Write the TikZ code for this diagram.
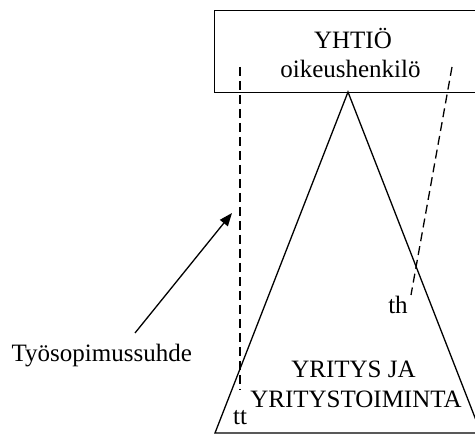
\documentclass[tikz,border=0pt]{standalone}
\usepackage{fontspec}
\setmainfont{Liberation Serif}
\usetikzlibrary{arrows.meta}
\begin{document}
\begin{tikzpicture}[x=1pt,y=-1pt,
  line width=1.3pt,
  lbl/.style={font=\fontsize{25}{29}\selectfont, inner sep=0pt},
  dashline/.style={dashed, dash pattern=on 9pt off 5pt},
  arr/.style={-{Triangle[length=13pt,width=10pt]}}]
\useasboundingbox (0,0) rectangle (475,435);
\clip (0,0) rectangle (475,435);
% company box
\node[draw, minimum width=276pt, minimum height=82pt, inner sep=0pt, anchor=north west] (yhtio) at (214,10) {};
\node[lbl, anchor=base] (yname) at (353,49) {YHTIÖ};
\node[lbl, anchor=base] (ytype) at (350.5,78) {oikeushenkilö};
% enterprise triangle
\coordinate (apex) at (348,92);
\coordinate (bl) at (215,433);
\coordinate (br) at (481,433);
\draw (apex) -- (bl) -- (br) -- cycle;
\node[lbl, anchor=base] (yr1) at (353.5,378) {YRITYS JA};
\node[lbl, anchor=base] (yr2) at (356,408) {YRITYSTOIMINTA};
% dashed relation lines
\coordinate (ltop) at (240,67);
\coordinate (lbot) at (240,390);
\draw[dashline] (ltop) -- (lbot);
\coordinate (rtop) at (452,67);
\coordinate (rbot) at (411,295);
\draw[dashline] (rtop) -- (rbot);
\node[lbl, anchor=base] (tt) at (240,425) {tt};
\node[lbl, anchor=base] (th) at (398,314) {th};
% employment contract label
\node[lbl, anchor=base west] (tsop) at (11,362) {Työsopimussuhde};
\coordinate (astart) at (135,333);
\coordinate (aend) at (232,213);
\draw[arr] (astart) -- (aend);
\end{tikzpicture}
\end{document}
